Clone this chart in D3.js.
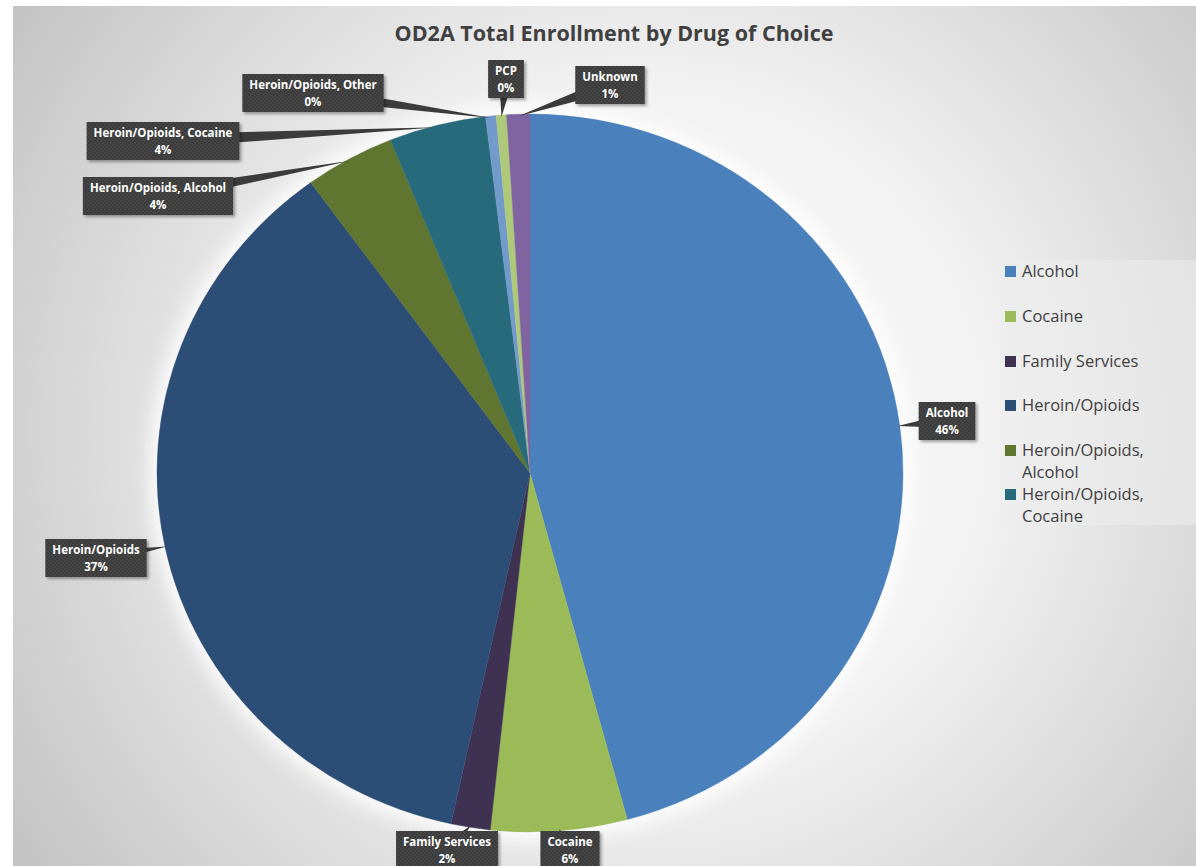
<!DOCTYPE html>
<html>
<head>
<meta charset="utf-8">
<script src="https://cdn.jsdelivr.net/npm/d3@7"></script>
<style>
  html, body { margin: 0; padding: 0; background: #ffffff; }
  svg { display: block; }
</style>
</head>
<body>
<div id="chart"></div>
<script>
// ── Data ─────────────────────────────────────
const CATEGORIES = ["Alcohol", "Cocaine", "Family Services", "Heroin/Opioids",
  "Heroin/Opioids, Alcohol", "Heroin/Opioids, Cocaine", "Heroin/Opioids, Other",
  "PCP", "Unknown"];
const SHARES = [45.8, 5.9, 1.7, 36.6, 3.9, 4.2, 0.45, 0.45, 1.0];
const LEGEND_ITEMS = ["Alcohol", "Cocaine", "Family Services", "Heroin/Opioids",
  "Heroin/Opioids,\nAlcohol", "Heroin/Opioids,\nCocaine"];
const TITLE = "OD2A Total Enrollment by Drug of Choice";

// ── Styles / layout ──────────────────────────
const COLORS = ["#4a81bd", "#9bbb59", "#3f3151", "#2c4d75", "#5f7530",
  "#276a7c", "#729aca", "#afc97a", "#8064a2"];
const FONT = "'Open Sans', 'Noto Sans', sans-serif";
const W = 1196, H = 866;
const CX = 530, CY = 473, RX = 373, RY = 359;

// callout box centres, keyed by category
const CALLOUT = {
  "Alcohol":                 [947, 421],
  "Cocaine":                 [570, 850],
  "Family Services":         [447, 850],
  "Heroin/Opioids":          [96, 558],
  "Heroin/Opioids, Alcohol": [158, 196],
  "Heroin/Opioids, Cocaine": [163, 141],
  "Heroin/Opioids, Other":   [313, 93],
  "PCP":                     [506, 79],
  "Unknown":                 [610, 85]
};

const svg = d3.select("#chart").append("svg").attr("width", W).attr("height", H);
const defs = svg.append("defs");

const bg = defs.append("radialGradient").attr("id", "bg")
  .attr("gradientUnits", "userSpaceOnUse")
  .attr("cx", 650).attr("cy", 430).attr("r", 760);
bg.append("stop").attr("offset", "0%").attr("stop-color", "#ffffff");
bg.append("stop").attr("offset", "45%").attr("stop-color", "#f2f2f2");
bg.append("stop").attr("offset", "100%").attr("stop-color", "#c4c4c4");

const dots = defs.append("pattern").attr("id", "dots")
  .attr("width", 4).attr("height", 4).attr("patternUnits", "userSpaceOnUse");
dots.append("rect").attr("width", 4).attr("height", 4).attr("fill", "#3b3b3b");
dots.append("circle").attr("cx", 1).attr("cy", 1).attr("r", 0.7).attr("fill", "#575757");
dots.append("circle").attr("cx", 3).attr("cy", 3).attr("r", 0.7).attr("fill", "#575757");

const glow = defs.append("filter").attr("id", "glow")
  .attr("x", "-20%").attr("y", "-20%").attr("width", "140%").attr("height", "140%");
glow.append("feGaussianBlur").attr("stdDeviation", 9);

const shadow = defs.append("filter").attr("id", "shadow")
  .attr("x", "-20%").attr("y", "-30%").attr("width", "140%").attr("height", "160%");
shadow.append("feDropShadow").attr("dx", 2).attr("dy", 2).attr("stdDeviation", 1.5)
  .attr("flood-color", "#000").attr("flood-opacity", 0.35);

// Chart area
svg.append("rect").attr("x", 13).attr("y", 6).attr("width", W - 13).attr("height", H - 6)
  .attr("fill", "url(#bg)");

// Title
svg.append("text").attr("x", 614).attr("y", 41).attr("text-anchor", "middle")
  .attr("font-family", FONT).attr("font-weight", 700).attr("font-size", "21.5px")
  .attr("fill", "#404040").text(TITLE);

// ── Pie ──────────────────────────────────────
const data = CATEGORIES.map((c, i) => ({ cat: c, value: SHARES[i], color: COLORS[i] }));
const pie = d3.pie().sort(null).value(d => d.value);
const arcs = pie(data);
const arc = d3.arc().innerRadius(0).outerRadius(RY);

svg.append("ellipse").attr("cx", CX).attr("cy", CY).attr("rx", RX + 8).attr("ry", RY + 8)
  .attr("fill", "#ffffff").attr("opacity", 0.9).attr("filter", "url(#glow)");

const pieG = svg.append("g")
  .attr("transform", `translate(${CX},${CY}) scale(${RX / RY},1)`);
pieG.selectAll("path").data(arcs).join("path")
  .attr("d", arc).attr("fill", d => d.data.color)
  .attr("stroke", d => d.data.color).attr("stroke-width", 0.4);

// ── Callouts ─────────────────────────────────
const callG = svg.append("g");
arcs.forEach(a => {
  const [bx, by] = CALLOUT[a.data.cat];
  const mid = (a.startAngle + a.endAngle) / 2;
  const tx = CX + (RX - 2) * Math.sin(mid);
  const ty = CY - (RY - 2) * Math.cos(mid);
  const pct = Math.round(a.data.value) + "%";

  const g = callG.append("g");
  const t1 = g.append("text").attr("x", bx).attr("y", by - 4)
    .attr("text-anchor", "middle").attr("font-family", FONT).attr("font-weight", 700)
    .attr("font-size", "11.5px").attr("fill", "#ffffff").text(a.data.cat);
  const t2 = g.append("text").attr("x", bx).attr("y", by + 13)
    .attr("text-anchor", "middle").attr("font-family", FONT).attr("font-weight", 700)
    .attr("font-size", "11.5px").attr("fill", "#ffffff").text(pct);
  const tw = Math.max(t1.node().getComputedTextLength(), t2.node().getComputedTextLength());
  const bw = tw + 14, bh = 38;

  // wedge pointer from box centre to slice edge
  const dx = tx - bx, dy = ty - by, len = Math.hypot(dx, dy) || 1;
  const px = -dy / len * 7, py = dx / len * 7;
  g.insert("path", "text")
    .attr("d", `M${tx},${ty}L${bx + px},${by + py}L${bx - px},${by - py}Z`)
    .attr("fill", "#3b3b3b");
  g.insert("rect", "text")
    .attr("x", bx - bw / 2).attr("y", by - bh / 2).attr("width", bw).attr("height", bh)
    .attr("fill", "url(#dots)").attr("filter", "url(#shadow)");
});

// ── Legend ───────────────────────────────────
const legend = svg.append("g").attr("transform", "translate(1000,260)");
legend.append("rect").attr("width", 196).attr("height", 265).attr("fill", "#ededed")
  .attr("opacity", 0.55);
const LEG_Y = [2, 47, 92, 136, 181, 225];
LEGEND_ITEMS.forEach((name, i) => {
  legend.append("rect").attr("x", 5).attr("y", LEG_Y[i] + 4).attr("width", 11).attr("height", 11)
    .attr("fill", COLORS[i]);
  const lines = name.split("\n");
  const t = legend.append("text").attr("font-family", FONT).attr("font-size", "16.5px")
    .attr("fill", "#404040");
  lines.forEach((ln, j) => {
    t.append("tspan").attr("x", 22).attr("y", LEG_Y[i] + 15 + j * 22).text(ln);
  });
});
</script>
</body>
</html>
